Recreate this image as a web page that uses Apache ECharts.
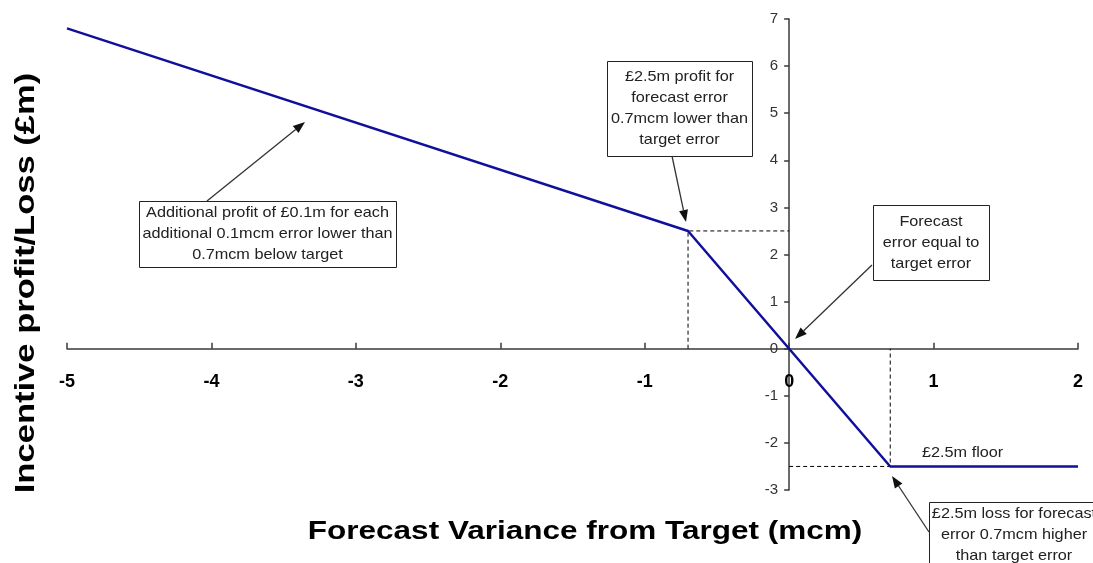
<!DOCTYPE html>
<html><head><meta charset="utf-8">
<script src="https://cdn.jsdelivr.net/npm/echarts@6/dist/echarts.min.js"></script>
<style>html,body{margin:0;padding:0;background:#fff}#c{width:1093px;height:563px}</style>
</head><body><div id="c"></div>
<script>
// ---- data ----
const xValues = [-5, -0.7, 0, 0.7, 2];
const incentive = [6.8, 2.5, 0, -2.5, -2.5];
const guideUpperX = [-0.7, -0.7, 0];
const guideUpperY = [0, 2.5, 2.5];
const guideLowerX = [0, 0.7, 0.7];
const guideLowerY = [-2.5, -2.5, 0];
const xTickLabels = ['-5', '-4', '-3', '-2', '-1', '0', '1', '2'];
const yTickLabels = ['-3', '-2', '-1', '0', '1', '2', '3', '4', '5', '6', '7'];
const xTitle = 'Forecast Variance from Target (mcm)';
const yTitle = 'Incentive profit/Loss (£m)';
const noteTexts = [
  'Additional profit of £0.1m for each\nadditional 0.1mcm error lower than\n0.7mcm below target',
  '£2.5m profit for\nforecast error\n0.7mcm lower than\ntarget error',
  'Forecast\nerror equal to\ntarget error',
  '£2.5m loss for forecast\nerror 0.7mcm higher\nthan target error'
];
const floorText = '£2.5m floor';

const zip = (a, b) => a.map((v, i) => [v, b[i]]);
const FONT = '"Liberation Sans", Arial, sans-serif';

const chart = echarts.init(document.getElementById('c'), null, {renderer: 'canvas'});

const xMin = Number(xTickLabels[0]), xMax = Number(xTickLabels[xTickLabels.length - 1]);
const yMin = Number(yTickLabels[0]), yMax = Number(yTickLabels[yTickLabels.length - 1]);
const G = {left: 67, right: 15, top: 19, bottom: 73};

chart.setOption({
  animation: false,
  backgroundColor: '#fff',
  grid: Object.assign({containLabel: false}, G),
  xAxis: {
    type: 'value', min: xMin, max: xMax, interval: 1, position: 'bottom', offset: 0,
    axisLine: {onZero: false, lineStyle: {color: '#3a3a3a', width: 1.5}},
    axisTick: {inside: true, length: 6, lineStyle: {color: '#3a3a3a', width: 1.5}},
    axisLabel: {fontFamily: FONT, fontWeight: 'bold', fontSize: 18, color: '#000', margin: 24},
    splitLine: {show: false}
  },
  yAxis: {
    type: 'value', min: yMin, max: yMax, interval: 1, position: 'left', offset: 0,
    axisLine: {onZero: false, lineStyle: {color: '#3a3a3a', width: 1.5}},
    axisTick: {inside: false, length: 5, lineStyle: {color: '#3a3a3a', width: 1.5}},
    axisLabel: {fontFamily: FONT, fontSize: 15, color: '#333', margin: 11},
    splitLine: {show: false}
  },
  series: [
    {type: 'line', data: zip(guideUpperX, guideUpperY), symbol: 'none', silent: true,
     lineStyle: {color: '#000', width: 1, type: [4, 3]}, z: 1},
    {type: 'line', data: zip(guideLowerX, guideLowerY), symbol: 'none', silent: true,
     lineStyle: {color: '#000', width: 1, type: [4, 3]}, z: 1},
    {type: 'line', data: zip(xValues, incentive), symbol: 'none',
     lineStyle: {color: '#10109a', width: 2.5}, z: 3}
  ]
});

// move both axes (line, ticks and labels) onto the origin
const origin = chart.convertToPixel({gridIndex: 0}, [0, 0]);
const gridBottomPx = 563 - G.bottom;
chart.setOption({
  xAxis: {offset: -(gridBottomPx - origin[1])},
  yAxis: {offset: -(origin[0] - G.left)}
});

// ---- annotations (boxes, arrows, titles) ----
const notes = [
  {text: noteTexts[0], box: [139, 201, 257, 66], from: [207, 201], to: [305, 122]},
  {text: noteTexts[1], box: [607, 61, 145, 95], from: [672, 156], to: [686, 222]},
  {text: noteTexts[2], box: [873, 205, 116, 75], from: [872, 265], to: [795, 339]},
  {text: noteTexts[3], box: [929, 502, 180, 80], from: [929, 532], to: [892, 476], cx: 1014, cy: 535}
];

function arrow(from, to) {
  const dx = to[0] - from[0], dy = to[1] - from[1];
  const len = Math.hypot(dx, dy), ux = dx / len, uy = dy / len;
  const L = 12, W = 4.5;
  const bx = to[0] - ux * L, by = to[1] - uy * L;
  return [
    {type: 'line', shape: {x1: from[0], y1: from[1], x2: bx, y2: by},
     style: {stroke: '#333', lineWidth: 1.3}, z: 20},
    {type: 'polygon', shape: {points: [[to[0], to[1]], [bx - uy * W, by + ux * W], [bx + uy * W, by - ux * W]]},
     style: {fill: '#111'}, z: 20}
  ];
}

const elements = [];
notes.forEach(n => {
  const [x, y, w, h] = n.box;
  elements.push({type: 'rect', shape: {x: x + 0.5, y: y + 0.5, width: w, height: h},
    style: {fill: '#fff', stroke: '#222', lineWidth: 1}, z: 19});
  elements.push({type: 'text', x: n.cx || (x + w / 2), y: n.cy || (y + h / 2), z: 21, scaleX: 1.12,
    style: {text: n.text, font: '14.5px ' + FONT, fill: '#222', align: 'center',
            verticalAlign: 'middle', lineHeight: 21}});
  elements.push(...arrow(n.from, n.to));
});
elements.push({type: 'text', x: 922, y: 453, z: 21, scaleX: 1.12,
  style: {text: floorText, font: '14.5px ' + FONT, fill: '#222', align: 'left', verticalAlign: 'middle'}});
elements.push({type: 'text', x: 585, y: 532, z: 21, scaleX: 1.26,
  style: {text: xTitle, font: 'bold 25px ' + FONT, fill: '#000', align: 'center', verticalAlign: 'middle'}});
elements.push({type: 'text', x: 27, y: 283, rotation: Math.PI / 2, z: 21, scaleX: 1.28,
  style: {text: yTitle, font: 'bold 27px ' + FONT, fill: '#000', align: 'center', verticalAlign: 'middle'}});

chart.setOption({graphic: {elements}});
</script>
</body></html>
